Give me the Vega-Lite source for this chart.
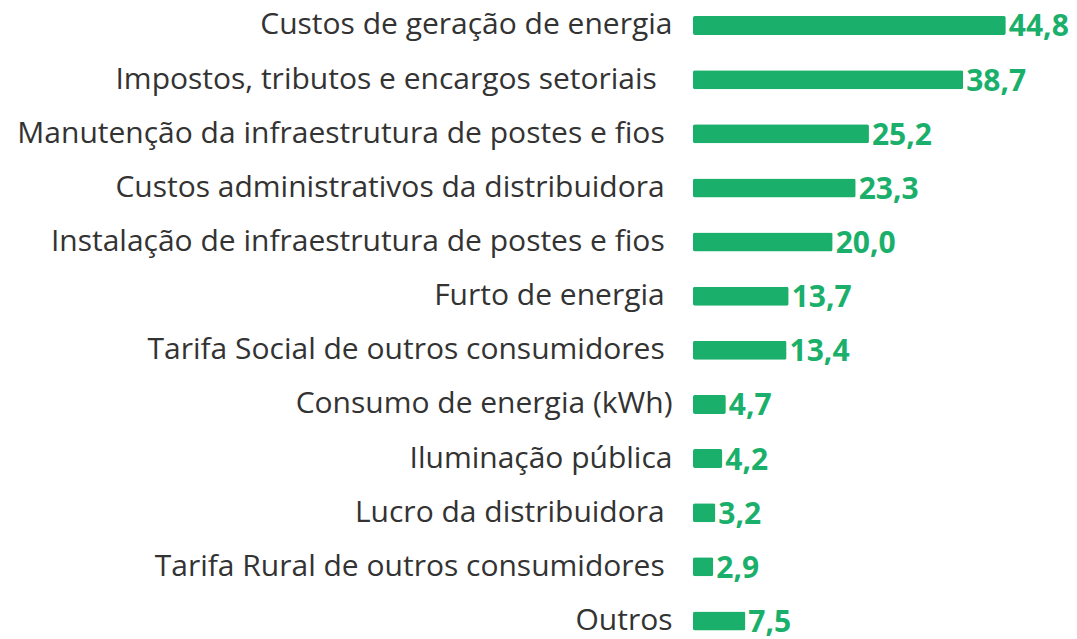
{
  "$schema": "https://vega.github.io/schema/vega-lite/v6.json",
  "autosize": {"type": "none"},
  "padding": {"left": 693, "top": 0, "right": 0, "bottom": 0},
  "width": 384,
  "height": 646.5,
  "background": "#ffffff",
  "config": {
    "view": {"stroke": null},
    "locale": {"number": {"decimal": ",", "thousands": ".", "grouping": [3], "currency": ["R$", ""]}}
  },
  "data": {
    "values": [
      {"item": "Custos de geração de energia", "valor": 44.8},
      {"item": "Impostos, tributos e encargos setoriais\u00a0\u00a0\u200b", "valor": 38.7},
      {"item": "Manutenção da infraestrutura de postes e fios\u00a0\u200b", "valor": 25.2},
      {"item": "Custos administrativos da distribuidora\u00a0\u200b", "valor": 23.3},
      {"item": "Instalação de infraestrutura de postes e fios\u00a0\u200b", "valor": 20.0},
      {"item": "Furto de energia\u00a0\u200b", "valor": 13.7},
      {"item": "Tarifa Social de outros consumidores\u00a0\u200b", "valor": 13.4},
      {"item": "Consumo de energia (kWh)", "valor": 4.7},
      {"item": "Iluminação pública", "valor": 4.2},
      {"item": "Lucro da distribuidora\u00a0\u200b", "valor": 3.2},
      {"item": "Tarifa Rural de outros consumidores\u00a0\u200b", "valor": 2.9},
      {"item": "Outros", "valor": 7.5}
    ]
  },
  "encoding": {
    "y": {
      "field": "item",
      "type": "nominal",
      "sort": null,
      "scale": {"paddingInner": 0.649, "paddingOuter": 0.2955, "round": false},
      "axis": {
        "title": null,
        "domain": false,
        "ticks": false,
        "labelPadding": 21,
        "labelFont": "Open Sans",
        "labelFontSize": 30,
        "labelColor": "#333333",
        "labelLimit": 0,
        "labelBaselineOffset": -2
      }
    },
    "x": {
      "field": "valor",
      "type": "quantitative",
      "scale": {"domain": [0, 55], "nice": false},
      "axis": null
    }
  },
  "layer": [
    {
      "mark": {"type": "bar", "color": "#1aaf6a", "cornerRadius": 2}
    },
    {
      "mark": {"type": "text", "align": "left", "baseline": "middle", "dx": 3, "dy": 2, "font": "Open Sans", "fontSize": 30, "fontWeight": "bold", "color": "#1aaf6a"},
      "encoding": {
        "text": {"field": "valor", "type": "quantitative", "format": ".1f"}
      }
    }
  ]
}
